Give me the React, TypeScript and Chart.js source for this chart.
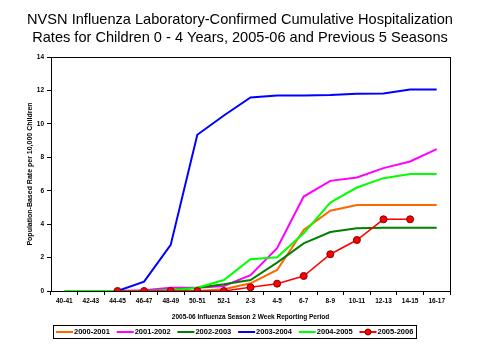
import React, { useEffect, useRef } from "react";
import { Chart, registerables } from "chart.js";

Chart.register(...registerables);

const categories = ["40-41", "42-43", "44-45", "46-47", "48-49", "50-51", "52-1", "2-3", "4-5", "6-7", "8-9", "10-11", "12-13", "14-15", "16-17"];
const seasonNames = ["2000-2001", "2001-2002", "2002-2003", "2003-2004", "2004-2005", "2005-2006"];
const s2000 = [null, null, 0, 0, 0, 0, 0.1, 0.46, 1.26, 3.65, 4.8, 5.15, 5.15, 5.15, 5.15];
const s2001 = [null, null, 0, 0.05, 0.2, 0.2, 0.3, 0.95, 2.56, 5.65, 6.59, 6.79, 7.35, 7.75, 8.49];
const s2002 = [null, null, 0, 0, 0.05, 0.2, 0.4, 0.66, 1.7, 2.85, 3.53, 3.75, 3.79, 3.79, 3.79];
const s2003 = [null, null, 0, 0.56, 2.76, 9.35, 10.5, 11.58, 11.7, 11.7, 11.72, 11.8, 11.82, 12.06, 12.06];
const s2004 = [0, 0, 0, 0, 0.05, 0.2, 0.66, 1.9, 2.02, 3.45, 5.29, 6.19, 6.75, 7.0, 7.0];
const s2005 = [null, null, 0, 0, 0, 0, 0, 0.22, 0.44, 0.9, 2.2, 3.05, 4.29, 4.29, null];
const yTicks = [0, 2, 4, 6, 8, 10, 12, 14];
const colors = ["#FF6600", "#FF00FF", "#008000", "#0000FF", "#00FF00", "#FF0000"];

const titleLines = [
  "NVSN Influenza Laboratory-Confirmed Cumulative Hospitalization",
  "Rates for Children 0 - 4 Years, 2005-06 and Previous 5 Seasons",
];

const FONT = "'Liberation Sans', Arial, sans-serif";

const framePlugin = {
  id: "frame",
  afterDraw(chart: any) {
    const { ctx, chartArea } = chart;
    ctx.save();
    ctx.strokeStyle = "#000";
    ctx.lineWidth = 1;
    ctx.strokeRect(Math.round(chartArea.left) + 0.5, Math.round(chartArea.top) + 0.5, Math.round(chartArea.right - chartArea.left), Math.round(chartArea.bottom - chartArea.top));
    ctx.fillStyle = "#000";
    ctx.font = `14.6px ${FONT}`;
    ctx.textAlign = "center";
    ctx.textBaseline = "middle";
    ctx.fillText(titleLines[0], 240, 20);
    ctx.fillText(titleLines[1], 240, 37.5);
    const lx = 53, ly = 325, lw = 363, lh = 13;
    ctx.strokeStyle = "#000";
    ctx.lineWidth = 1;
    ctx.strokeRect(lx + 0.5, ly + 0.5, lw, lh);
    ctx.font = `bold 7.5px ${FONT}`;
    ctx.textAlign = "left";
    const cy = ly + 7;
    seasonNames.forEach((name, i) => {
      const x0 = 56 + i * 60.7;
      ctx.strokeStyle = colors[i];
      ctx.lineWidth = 2;
      ctx.beginPath();
      ctx.moveTo(x0, cy);
      ctx.lineTo(x0 + 17, cy);
      ctx.stroke();
      if (i === 5) {
        ctx.fillStyle = "#FF0000";
        ctx.strokeStyle = "#800000";
        ctx.lineWidth = 1;
        ctx.beginPath();
        ctx.arc(x0 + 8.5, cy, 3, 0, Math.PI * 2);
        ctx.fill();
        ctx.stroke();
      }
      ctx.fillStyle = "#000";
      ctx.fillText(name, x0 + 18, cy);
    });
    ctx.restore();
  },
};

export default function App() {
  const ref = useRef<HTMLCanvasElement>(null);
  useEffect(() => {
    if (!ref.current) return;
    const series = [s2000, s2001, s2002, s2003, s2004, s2005];
    const chart = new Chart(ref.current, {
      type: "line",
      data: {
        labels: categories,
        datasets: series.map((d, i) => ({
          label: seasonNames[i],
          data: d,
          borderColor: colors[i],
          backgroundColor: colors[i],
          borderWidth: i === 5 ? 1.5 : 2,
          pointRadius: i === 5 ? 3.5 : 0,
          pointBackgroundColor: "#FF0000",
          pointBorderColor: "#800000",
          pointBorderWidth: 1,
          tension: 0,
          spanGaps: false,
          order: 5 - i,
        })),
      },
      options: {
        animation: false,
        responsive: false,
        maintainAspectRatio: false,
        events: [],
        layout: { padding: { top: 57, right: 30, left: 24, bottom: 39 } },
        plugins: { legend: { display: false }, title: { display: false }, tooltip: { enabled: false } },
        scales: {
          x: {
            offset: true,
            grid: { display: true, offset: true, drawOnChartArea: false, drawTicks: true, tickLength: 4, color: "#000" },
            border: { display: true, color: "#000" },
            ticks: { color: "#000", font: { family: FONT, size: 6.5, weight: "bold" }, maxRotation: 0, minRotation: 0, autoSkip: false, padding: 2 },
            title: { display: true, text: "2005-06 Influenza Season 2 Week Reporting Period", color: "#000", font: { family: FONT, size: 6.5, weight: "bold" }, padding: { top: 4, bottom: 0 } },
            afterFit: (s: any) => { s.height = 30; },
          },
          y: {
            min: 0,
            max: 14,
            afterBuildTicks: (s: any) => { s.ticks = yTicks.map((v) => ({ value: v })); },
            grid: { display: true, drawOnChartArea: false, drawTicks: true, tickLength: 4, color: "#000" },
            border: { display: true, color: "#000" },
            ticks: { color: "#000", font: { family: FONT, size: 6.5, weight: "bold" }, padding: 3 },
            title: { display: true, text: "Population-Based Rate per 10,000 Children", color: "#000", font: { family: FONT, size: 7, weight: "bold" }, padding: 2 },
            afterFit: (s: any) => { s.width = 27; },
          },
        },
      },
      plugins: [framePlugin],
    });
    return () => chart.destroy();
  }, []);
  return (
    <div style={{ position: "fixed", left: 0, top: 0, width: 480, height: 360, background: "#fff" }}>
      <canvas ref={ref} width={480} height={360} style={{ width: 480, height: 360 }} />
    </div>
  );
}
